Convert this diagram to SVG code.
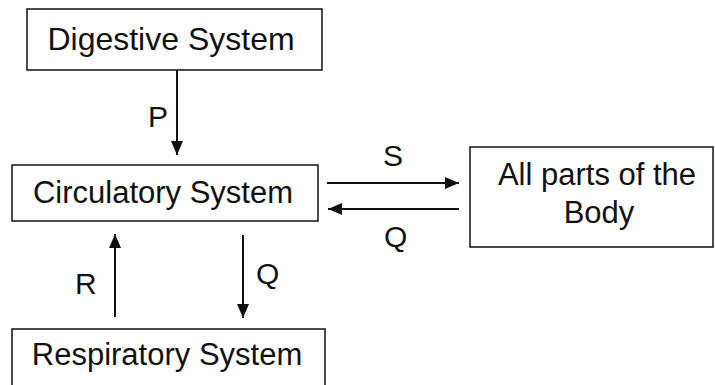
<svg xmlns="http://www.w3.org/2000/svg" width="715" height="385" viewBox="0 0 715 385">
<style>
.box{fill:#fff;stroke:#111;stroke-width:1.5}
.t{font-family:"Liberation Sans",Arial,sans-serif;font-size:31px;fill:#111;text-anchor:middle}
.l{font-family:"Liberation Sans",Arial,sans-serif;font-size:30px;fill:#111}
.c{stroke:#111;stroke-width:2;fill:none;marker-end:url(#ah)}
</style>
<defs>
<marker id="ah" viewBox="0 0 14 12" refX="14" refY="6" markerWidth="14" markerHeight="12" markerUnits="userSpaceOnUse" orient="auto">
<path d="M0,0 L14,6 L0,12 z" fill="#111"/>
</marker>
</defs>
<rect width="715" height="385" fill="#fff"/>
<g id="digestive"><rect class="box" x="27" y="9" width="295" height="61"/><text class="t" x="171" y="50" style="font-size:32px">Digestive System</text></g>
<g id="circulatory"><rect class="box" x="12" y="165" width="306" height="56"/><text class="t" x="163" y="203">Circulatory System</text></g>
<g id="body"><rect class="box" x="470" y="147" width="243" height="100"/><text class="t" x="597" y="185">All parts of the</text><text class="t" x="599" y="223">Body</text></g>
<g id="respiratory"><rect class="box" x="12" y="329" width="313" height="60"/><text class="t" x="167" y="365">Respiratory System</text></g>
<g id="connectors">
<line class="c" x1="177" y1="70" x2="177" y2="155"/>
<line class="c" x1="327" y1="183" x2="459" y2="183"/>
<line class="c" x1="459" y1="209" x2="328" y2="209"/>
<line class="c" x1="115" y1="317" x2="115" y2="234"/>
<line class="c" x1="243" y1="235" x2="243" y2="318"/>
<text class="l" x="148" y="127">P</text>
<text class="l" x="383" y="166">S</text>
<text class="l" x="384" y="247">Q</text>
<text class="l" x="75" y="294">R</text>
<text class="l" x="256" y="284">Q</text>
</g>
</svg>
